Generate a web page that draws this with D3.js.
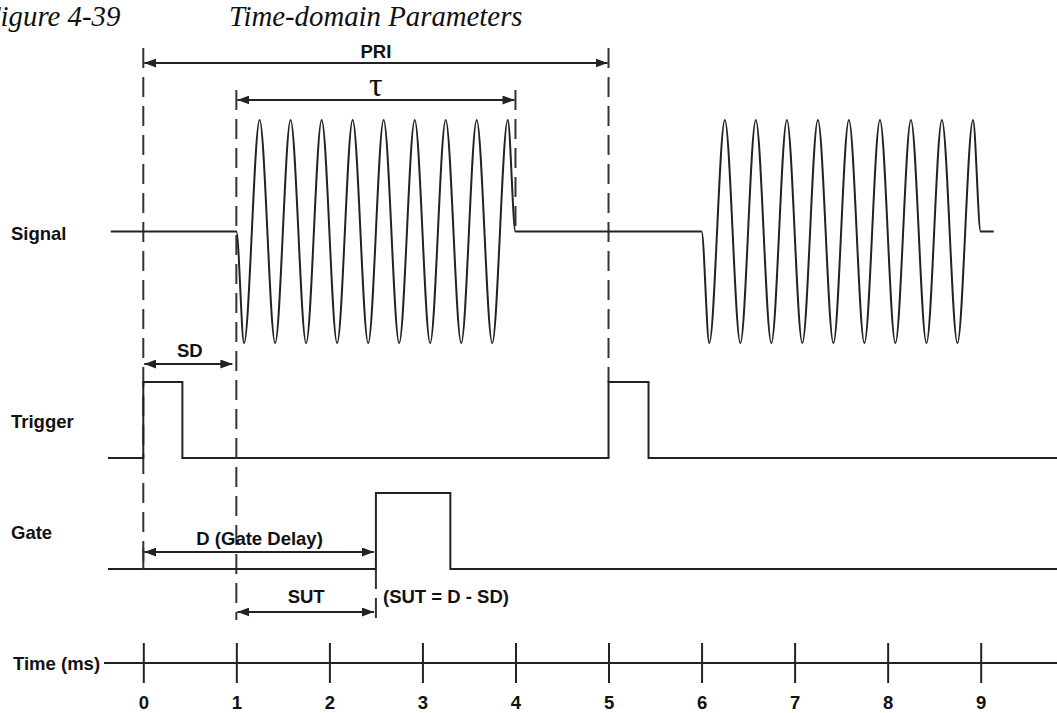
<!DOCTYPE html>
<html>
<head>
<meta charset="utf-8">
<script src="https://cdn.jsdelivr.net/npm/d3@7"></script>
<style>
  body { margin: 0; background: #fff; }
  svg { display: block; }
  .lbl { font-family: "Liberation Sans", Arial, Helvetica, sans-serif; font-weight: bold; font-size: 18.5px; fill: #111; }
  .title { font-family: "Liberation Serif", "Times New Roman", serif; font-style: italic; font-size: 28.8px; fill: #111; }
</style>
</head>
<body>
<div id="chart"></div>
<script>
// time axis ticks (ms)
var timeTicks = [0, 1, 2, 3, 4, 5, 6, 7, 8, 9];
var laneLabels = ["Signal", "Trigger", "Gate", "Time (ms)"];

// RF pulses: start times (ms) and width tau (ms)
var pulseStarts = [1, 6];
var pulseWidth = 3;
// carrier turning points, measured from pulse start (ms) and their level (-1 trough, 1 peak)
var carrierTimes = [0.083, 0.25, 0.417, 0.583, 0.75, 0.917, 1.083, 1.25, 1.417,
                    1.583, 1.75, 1.917, 2.083, 2.25, 2.417, 2.583, 2.75, 2.917];
var carrierLevels = [-1, 1, -1, 1, -1, 1, -1, 1, -1, 1, -1, 1, -1, 1, -1, 1, -1, 1];

// trigger pulses (ms)
var triggerOn = [0, 5];
var triggerOff = [0.42, 5.43];

// gate (ms)
var gateOn = [2.5];
var gateOff = [3.3];

// dimension arrows
var spanLabels = ["PRI", "\u03c4", "SD", "D (Gate Delay)", "SUT"];
var spanStart = [0, 1, 0, 0, 1];
var spanEnd = [5, 4, 1, 2.5, 2.5];

function init(){
    var w = 1057, h = 713;
    var tMin = -0.38, tMax = 9.85;

    var x = d3.scaleLinear().domain([0, 9]).range([143.3, 980.7]);

    var ySig = d3.scaleLinear().domain([-1, 1]).range([343, 120]);
    var yTrig = d3.scaleLinear().domain([0, 1]).range([458, 382]);
    var yGate = d3.scaleLinear().domain([0, 1]).range([569, 493]);
    var axisY = 663;

    var svg = d3.select("#chart").append("svg")
        .attr("width", w).attr("height", h);

    var defs = svg.append("defs");
    defs.append("marker")
        .attr("id", "arrow")
        .attr("markerUnits", "userSpaceOnUse")
        .attr("viewBox", "0 0 12 9")
        .attr("markerWidth", 12).attr("markerHeight", 9)
        .attr("refX", 12).attr("refY", 4.5)
        .attr("orient", "auto-start-reverse")
        .append("path")
        .attr("d", "M0,0 L12,4.5 L0,9 Z")
        .attr("fill", "#222");

    // title (left edge is cut off in the original as well)
    svg.append("text").attr("class", "title").attr("x", -17).attr("y", 26).text("Figure 4-39");
    svg.append("text").attr("class", "title").attr("x", 229).attr("y", 26).text("Time-domain Parameters");

    // lane labels
    var labelY = [240, 428, 539, 670];
    svg.selectAll(".lane").data(laneLabels).enter().append("text")
        .attr("class", "lbl lane")
        .attr("x", function(d, i){ return i == 3 ? 13 : 11; })
        .attr("y", function(d, i){ return labelY[i]; })
        .text(function(d){ return d; });

    // dashed reference lines
    var refLines = [
        {t: 0, y1: 48, y2: 569},
        {t: 1, y1: 90, y2: 620},
        {t: 4, y1: 90, y2: 233},
        {t: 5, y1: 48, y2: 382},
        {t: 2.5, y1: 569, y2: 620}
    ];
    svg.selectAll(".ref").data(refLines).enter().append("line")
        .attr("class", "ref")
        .attr("x1", function(d){ return x(d.t); })
        .attr("x2", function(d){ return x(d.t); })
        .attr("y1", function(d){ return d.y1; })
        .attr("y2", function(d){ return d.y2; })
        .attr("stroke", "#333")
        .attr("stroke-width", 2)
        .attr("stroke-dasharray", "20,9");

    // signal
    var sig = [[tMin + 0.03, 0]];
    pulseStarts.forEach(function(s){
        sig.push([s, 0]);
        carrierTimes.forEach(function(c, i){ sig.push([s + c, carrierLevels[i]]); });
        sig.push([s + pulseWidth, 0]);
    });
    sig.push([pulseStarts[1] + pulseWidth + 0.14, 0]);

    var sigLine = d3.line()
        .x(function(d){ return x(d[0]); })
        .y(function(d){ return ySig(d[1]); })
        .curve(d3.curveMonotoneX);

    svg.append("path").datum(sig)
        .attr("d", sigLine)
        .attr("fill", "none")
        .attr("stroke", "#222")
        .attr("stroke-width", 2);

    // step traces
    function steps(on, off){
        var pts = [[tMin, 0]];
        on.forEach(function(t, i){
            pts.push([t, 0], [t, 1], [off[i], 1], [off[i], 0]);
        });
        pts.push([tMax, 0]);
        return pts;
    }
    var trigLine = d3.line().x(function(d){ return x(d[0]); }).y(function(d){ return yTrig(d[1]); });
    var gateLine = d3.line().x(function(d){ return x(d[0]); }).y(function(d){ return yGate(d[1]); });

    svg.append("path").datum(steps(triggerOn, triggerOff))
        .attr("d", trigLine).attr("fill", "none").attr("stroke", "#222").attr("stroke-width", 2);
    svg.append("path").datum(steps(gateOn, gateOff))
        .attr("d", gateLine).attr("fill", "none").attr("stroke", "#222").attr("stroke-width", 2);

    // dimension arrows
    var spanY = [63, 100, 364, 552, 612];
    var spanTextY = [58, 96, 357, 545, 603];
    var spanGap = [1, 1, 4, 2, 2];
    var spans = svg.selectAll(".span").data(spanLabels).enter().append("g").attr("class", "span");
    spans.append("line")
        .attr("x1", function(d, i){ return x(spanStart[i]) + 1; })
        .attr("x2", function(d, i){ return x(spanEnd[i]) - spanGap[i]; })
        .attr("y1", function(d, i){ return spanY[i]; })
        .attr("y2", function(d, i){ return spanY[i]; })
        .attr("stroke", "#222")
        .attr("stroke-width", 2)
        .attr("marker-start", "url(#arrow)")
        .attr("marker-end", "url(#arrow)");
    spans.append("text")
        .attr("class", "lbl")
        .attr("text-anchor", "middle")
        .attr("x", function(d, i){ return x((spanStart[i] + spanEnd[i]) / 2); })
        .attr("y", function(d, i){ return spanTextY[i]; })
        .style("font-family", function(d, i){ return i == 1 ? "'Liberation Serif', 'Times New Roman', serif" : null; })
        .style("font-weight", function(d, i){ return i == 1 ? "normal" : null; })
        .style("font-size", function(d, i){ return i == 1 ? "34px" : null; })
        .text(function(d){ return d; });

    // short tick at the D arrow start
    svg.append("line").attr("x1", x(0)).attr("x2", x(0)).attr("y1", 548).attr("y2", 569)
        .attr("stroke", "#333").attr("stroke-width", 2);

    svg.append("text").attr("class", "lbl")
        .attr("x", 383).attr("y", 603)
        .text("(SUT = D - SD)");

    // time axis
    var xAxis = d3.axisBottom(x).tickValues(timeTicks).tickSize(20).tickFormat(d3.format("d"));
    var ax = svg.append("g")
        .attr("transform", "translate(0," + axisY + ")")
        .call(xAxis);
    ax.select(".domain").remove();
    ax.selectAll(".tick line").attr("y1", -20).attr("stroke", "#222").attr("stroke-width", 2);
    ax.selectAll(".tick text")
        .attr("class", "lbl")
        .attr("y", 46).attr("dy", null)
        .attr("fill", "#111");
    ax.insert("line", ":first-child")
        .attr("x1", 104).attr("x2", w)
        .attr("y1", 0).attr("y2", 0)
        .attr("stroke", "#222").attr("stroke-width", 2);
}
window.onload = init;
</script>
</body>
</html>
